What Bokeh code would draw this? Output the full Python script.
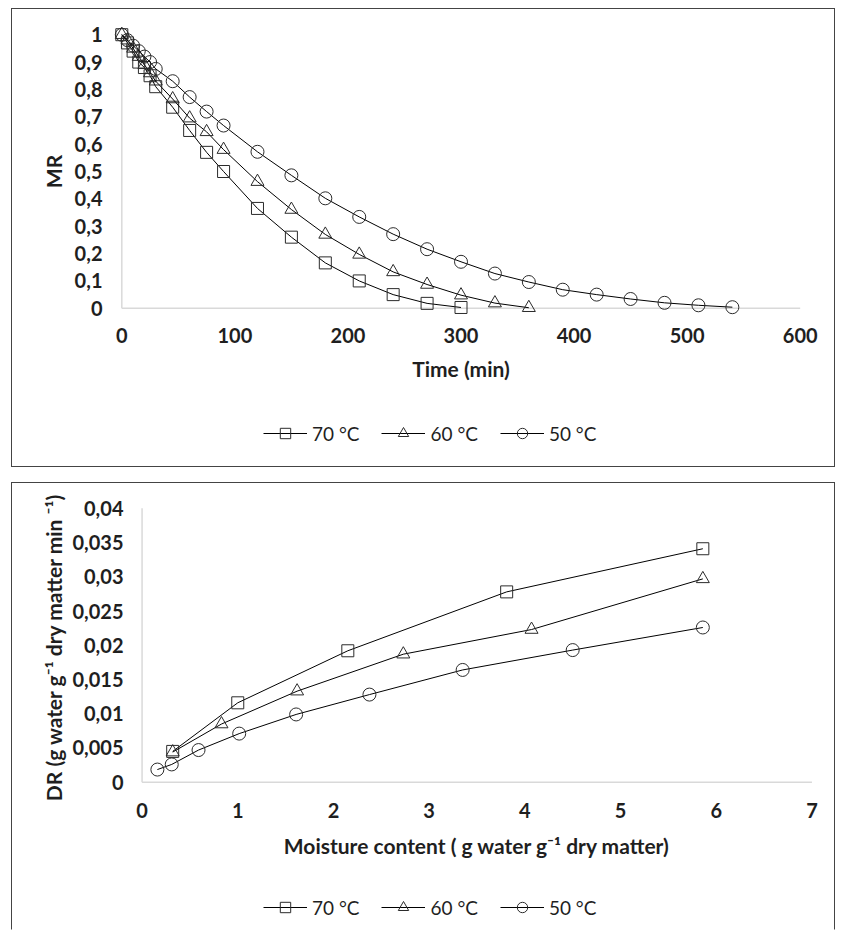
from bokeh.plotting import figure
from bokeh.models import FixedTicker, Legend, LegendItem, Range1d
from bokeh.layouts import column
from bokeh.embed import file_html
from bokeh.resources import INLINE

# ---------------- Top chart: MR vs time ----------------
t70 = [0, 5, 10, 15, 20, 25, 30, 45, 60, 75, 90, 120, 150, 180, 210, 240, 270, 300]
mr70 = [1.0, 0.97, 0.94, 0.90, 0.88, 0.85, 0.81, 0.735, 0.65, 0.57, 0.50, 0.365, 0.26,
        0.166, 0.10, 0.05, 0.018, 0.003]
t60 = [0, 5, 10, 15, 20, 25, 30, 45, 60, 75, 90, 120, 150, 180, 210, 240, 270, 300, 330, 360]
mr60 = [1.0, 0.98, 0.95, 0.92, 0.89, 0.86, 0.83, 0.765, 0.695, 0.645, 0.58, 0.463, 0.361,
        0.27, 0.197, 0.133, 0.087, 0.048, 0.019, 0.002]
t50 = [0, 5, 10, 15, 20, 25, 30, 45, 60, 75, 90, 120, 150, 180, 210, 240, 270, 300, 330,
       360, 390, 420, 450, 480, 510, 540]
mr50 = [1.0, 0.98, 0.96, 0.94, 0.92, 0.90, 0.875, 0.83, 0.772, 0.719, 0.668, 0.572, 0.486,
        0.402, 0.334, 0.271, 0.216, 0.170, 0.127, 0.096, 0.068, 0.050, 0.034, 0.020, 0.011, 0.004]

top_x_ticks = [0, 100, 200, 300, 400, 500, 600]
top_y_ticks = [0, 0.1, 0.2, 0.3, 0.4, 0.5, 0.6, 0.7, 0.8, 0.9, 1]
top_y_labels = ["0", "0,1", "0,2", "0,3", "0,4", "0,5", "0,6", "0,7", "0,8", "0,9", "1"]

# ---------------- Bottom chart: DR vs moisture content ----------------
mc70 = [0.32, 1.00, 2.15, 3.81, 5.86]
dr70 = [0.0045, 0.0116, 0.0192, 0.0278, 0.0341]
mc60 = [0.32, 0.83, 1.62, 2.73, 4.07, 5.86]
dr60 = [0.0044, 0.0085, 0.0133, 0.0187, 0.0223, 0.0297]
mc50 = [0.16, 0.31, 0.59, 1.015, 1.61, 2.376, 3.35, 4.50, 5.86]
dr50 = [0.00185, 0.0026, 0.0047, 0.0071, 0.0099, 0.0128, 0.0164, 0.0193, 0.0226]

bot_x_ticks = [0, 1, 2, 3, 4, 5, 6, 7]
bot_y_ticks = [0, 0.005, 0.01, 0.015, 0.02, 0.025, 0.03, 0.035, 0.04]
bot_y_labels = ["0", "0,005", "0,01", "0,015", "0,02", "0,025", "0,03", "0,035", "0,04"]

series_labels = ["70 °C", "60 °C", "50 °C"]
markers = ["square", "triangle", "circle"]
marker_sizes = [12, 13, 13]

FONT = "Lato"
TXT = "#1f1f1f"
AXIS_GRAY = "#d9d9d9"
BOX_TOP = {"border": "1px solid #444444"}
BOX_BOTTOM = {"border": "1px solid #444444", "border-bottom": "1px solid white"}


def make_fig(w, h, lb, rb, tb, bb, xr, yr):
    p = figure(width=w, height=h, x_range=xr, y_range=yr, title=None,
               min_border_left=lb, min_border_right=rb, min_border_top=tb,
               min_border_bottom=bb, output_backend="svg", toolbar_location=None)
    p.outline_line_color = None
    p.xgrid.grid_line_color = None
    p.ygrid.grid_line_color = None
    p.background_fill_color = "white"
    p.border_fill_color = "white"
    for ax in (p.xaxis[0], p.yaxis[0]):
        ax.axis_line_color = None
        ax.major_tick_line_color = None
        ax.minor_tick_line_color = None
        ax.major_tick_out = 0
        ax.major_tick_in = 0
        ax.major_label_text_font = FONT
        ax.major_label_text_font_style = "bold"
        ax.major_label_text_font_size = "20px"
        ax.major_label_text_color = TXT
        ax.axis_label_text_font = FONT
        ax.axis_label_text_font_style = "bold"
        ax.axis_label_text_font_size = "21px"
        ax.axis_label_text_color = TXT
    return p


def add_series(p, xs_list, ys_list):
    items = []
    for xs, ys, lab, mk, sz in zip(xs_list, ys_list, series_labels, markers, marker_sizes):
        ln = p.line(xs, ys, line_color="black", line_width=1)
        sc = p.scatter(xs, ys, marker=mk, size=sz, fill_alpha=0,
                       line_color="#2b2b2b", line_width=1)
        items.append(LegendItem(label=lab, renderers=[ln, sc]))
    return items


def legend_fig(w, h, xs_list, ys_list, loc):
    # strip that carries only the legend; its series lie outside its ranges
    lf = figure(width=w, height=h, x_range=Range1d(-2, -1), y_range=Range1d(-2, -1),
                title=None, x_axis_type=None, y_axis_type=None,
                min_border_left=0, min_border_right=0, min_border_top=0,
                min_border_bottom=0, output_backend="svg", toolbar_location=None)
    lf.outline_line_color = None
    lf.xgrid.grid_line_color = None
    lf.ygrid.grid_line_color = None
    items = add_series(lf, xs_list, ys_list)
    lg = Legend(items=items, orientation="horizontal", location=loc)
    lg.border_line_color = None
    lg.background_fill_alpha = 0
    lg.padding = 0
    lg.margin = 0
    lg.spacing = 22
    lg.glyph_width = 44
    lg.glyph_height = 26
    lg.label_standoff = 5
    lg.label_text_font = FONT
    lg.label_text_font_size = "19px"
    lg.label_text_color = TXT
    lf.add_layout(lg)
    return lf


# ---- top chart ----
p1 = make_fig(822, 400, 98, 23, 17, 93, (-10, 610), (-0.03, 1.03))
p1.segment(x0=[top_x_ticks[0]], y0=[0], x1=[top_x_ticks[-1]], y1=[0],
           line_color=AXIS_GRAY, line_width=1.5)
p1.segment(x0=[0], y0=[top_y_ticks[0]], x1=[0], y1=[top_y_ticks[-1]],
           line_color=AXIS_GRAY, line_width=1.5)
add_series(p1, [t70, t60, t50], [mr70, mr60, mr50])
p1.xaxis.ticker = FixedTicker(ticks=top_x_ticks)
p1.yaxis.ticker = FixedTicker(ticks=top_y_ticks)
p1.yaxis.major_label_overrides = {v: s for v, s in zip(top_y_ticks, top_y_labels)}
p1.xaxis.axis_label = "Time (min)"
p1.yaxis.axis_label = "MR"
p1.xaxis.major_label_standoff = 11
p1.xaxis.axis_label_standoff = 10
p1.yaxis.major_label_standoff = 8
p1.yaxis.axis_label_standoff = 6
l1 = legend_fig(822, 57, [t70, t60, t50], [mr70, mr60, mr50], (153, 20))
top_block = column(p1, l1, spacing=0, styles=BOX_TOP, margin=(8, 0, 0, 11))

# ---- bottom chart ----
p2 = make_fig(822, 389, 120, 13, 18, 80, (-0.1, 7.1), (-0.0015, 0.0410))
p2.segment(x0=[bot_x_ticks[0]], y0=[0], x1=[bot_x_ticks[-1]], y1=[0],
           line_color=AXIS_GRAY, line_width=1.5)
p2.segment(x0=[0], y0=[bot_y_ticks[0]], x1=[0], y1=[bot_y_ticks[-1]],
           line_color=AXIS_GRAY, line_width=1.5)
add_series(p2, [mc70, mc60, mc50], [dr70, dr60, dr50])
p2.xaxis.ticker = FixedTicker(ticks=bot_x_ticks)
p2.yaxis.ticker = FixedTicker(ticks=bot_y_ticks)
p2.yaxis.major_label_overrides = {v: s for v, s in zip(bot_y_ticks, bot_y_labels)}
p2.xaxis.axis_label = "Moisture content ( g water g\u207b\u00b9 dry matter)"
p2.yaxis.axis_label = "DR (g water g\u207b\u00b9 dry matter min \u207b\u00b9)"
p2.xaxis.major_label_standoff = 10
p2.xaxis.axis_label_standoff = 12
p2.yaxis.major_label_standoff = 9
p2.yaxis.axis_label_standoff = 3
l2 = legend_fig(822, 57, [mc70, mc60, mc50], [dr70, dr60, dr50], (131, 9))
bottom_block = column(p2, l2, spacing=0, styles=BOX_BOTTOM, margin=(0, 0, 0, 11))

layout = column(top_block, bottom_block, spacing=15)

with open("out.html", "w") as f:
    f.write(file_html(layout, INLINE))
